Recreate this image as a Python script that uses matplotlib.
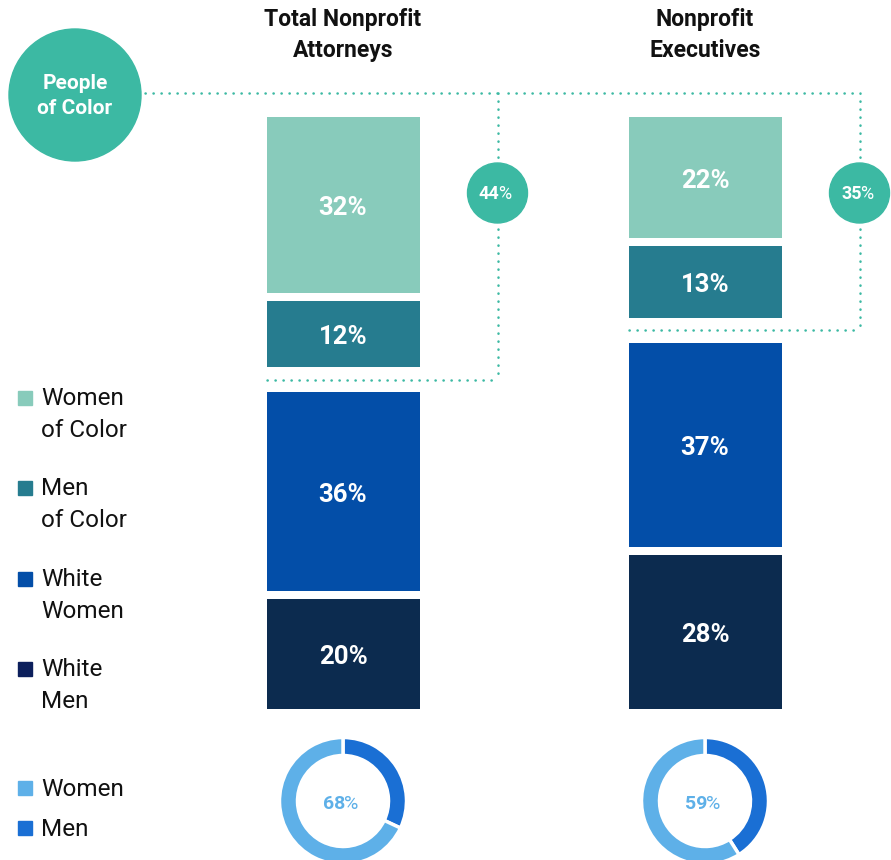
import matplotlib.pyplot as plt
from matplotlib.patches import Circle, Rectangle

plt.rcParams['font.family'] = ['Roboto', 'DejaVu Sans']

# data
groups = ['Total Nonprofit\nAttorneys', 'Nonprofit\nExecutives']
women_of_color = [32, 22]
men_of_color = [12, 13]
white_women = [36, 37]
white_men = [20, 28]
poc_total = [44, 35]
women_share = [68, 59]

seg_names = ['Women\nof Color', 'Men\nof Color', 'White\nWomen', 'White\nMen']
seg_colors = ['#88cbbb', '#267c8f', '#034ea8', '#0c2b4f']
legend_colors = ['#88cbbb', '#267c8f', '#034ea8', '#0c1f5c']
women_col = '#5eb0e8'
men_col = '#1a6fd4'
teal = '#3cb9a3'

fig = plt.figure(figsize=(8.91, 8.60), dpi=100)
ax = fig.add_axes([0, 0, 1, 1])

xc = [343, 705]
bw = 153
top = 117
gap = 8
big_gap = 25
scale = (592 - 2 * gap - big_gap) / 100.0
dots = dict(color=teal, lw=1.8, linestyle=(0, (0.1, 3.1)), dash_capstyle='round')

for i, x in enumerate(xc):
    vals = [women_of_color[i], men_of_color[i], white_women[i], white_men[i]]
    y = top
    poc_bottom = None
    for j, v in enumerate(vals):
        h = v * scale
        ax.bar(x, h, width=bw, bottom=y, color=seg_colors[j], edgecolor='none')
        ax.text(x, y + h / 2 + 3, f'{v}%', color='white', fontsize=18.5,
                fontweight='bold', ha='center', va='center')
        y += h
        if j == 1:
            poc_bottom = y
            y += big_gap
        else:
            y += gap

    ax.text(x, 35, groups[i], fontsize=16.5, fontweight='bold', ha='center',
            va='center', linespacing=1.45, color='#111111')

    # dotted bracket around people of color
    line_y = poc_bottom + big_gap / 2
    vx = x + bw / 2 + 78
    left = 145 if i == 0 else 508
    ax.plot([left, vx], [93, 93], **dots)
    ax.plot([vx, vx], [93, line_y], **dots)
    ax.plot([x - bw / 2, vx], [line_y, line_y], **dots)
    ax.add_patch(Circle((vx, 193), 30, color=teal, zorder=3))
    ax.text(vx + 2, 194, f'{poc_total[i]}', color='white', fontsize=13,
            fontweight='bold', ha='right', va='center', zorder=4)
    ax.text(vx + 1, 194, '%', color='white', fontsize=13,
            ha='left', va='center', zorder=4)

    # donut: men vs women
    w = women_share[i]
    ax.pie([100 - w, w], colors=[men_col, women_col], center=(x, 801),
           radius=63.5, startangle=-90, counterclock=True,
           wedgeprops=dict(width=18, edgecolor='white', linewidth=2.5))
    ax.text(x + 2, 804, f'{w}', color=women_col, fontsize=14,
            fontweight='bold', ha='right', va='center')
    ax.text(x + 1, 804, '%', color=women_col, fontsize=14,
            ha='left', va='center')

# people of color badge
ax.add_patch(Circle((75, 95), 66, color=teal, zorder=3))
ax.text(75, 96, 'People\nof Color', color='white', fontsize=15,
        fontweight='bold', ha='center', va='center', linespacing=1.45, zorder=4)

# legend
leg_y = [398, 488, 579, 669]
for name, col, y in zip(seg_names, legend_colors, leg_y):
    ax.add_patch(Rectangle((18, y - 7), 14, 14, color=col))
    ax.text(41, y - 11, name, fontsize=17.5, ha='left', va='top',
            linespacing=1.5, color='#111111')
for name, col, y in zip(['Women', 'Men'], [women_col, men_col], [788, 828]):
    ax.add_patch(Rectangle((18, y - 7), 14, 14, color=col))
    ax.text(41, y + 1, name, fontsize=17.5, ha='left', va='center', color='#111111')

ax.set_xlim(0, 891)
ax.set_ylim(860, 0)
ax.set_aspect('auto')
ax.axis('off')

fig.savefig('out.png', dpi=100, facecolor='white')
